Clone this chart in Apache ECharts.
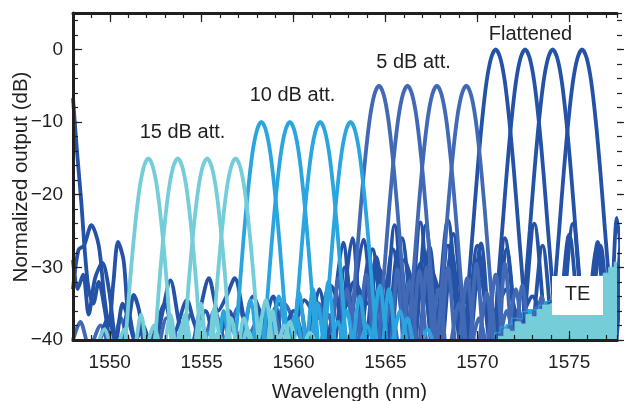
<!DOCTYPE html>
<html>
<head>
<meta charset="utf-8">
<script src="https://cdn.jsdelivr.net/npm/echarts@6/dist/echarts.min.js"></script>
<style>html,body{margin:0;padding:0;background:#fff}#c{width:624px;height:401px}</style>
</head>
<body>
<div id="c"></div>
<script>
// ---- tick labels ----
const xLabelTicks = [1550, 1555, 1560, 1565, 1570, 1575];
const yLabelTicks = [-40, -30, -20, -10, 0];
const xRange = [1548, 1577.6];
const yRange = [-40, 5];

// ---- 15 dB att. channels ----
const att15_1 = [[1549.2,-42],[1549.7,-38.5],[1550.15,-42],[1550.55,-46],[1550.85,-40],[1551.1,-32],[1551.35,-25],[1551.6,-19.5],[1551.85,-16.2],[1552.1,-15],[1552.35,-16.2],[1552.6,-19.5],[1552.85,-25],[1553.1,-32],[1553.35,-40],[1553.65,-44],[1554.1,-36.5],[1554.55,-42],[1555.0,-37.5],[1555.45,-42],[1555.9,-39],[1556.35,-43]];
const att15_2 = [[1550.35,-42],[1550.8,-38.5],[1551.25,-42],[1551.7,-36.5],[1552.15,-44],[1552.45,-40],[1552.7,-32],[1552.95,-25],[1553.2,-19.5],[1553.45,-16.2],[1553.7,-15],[1553.95,-16.2],[1554.2,-19.5],[1554.45,-25],[1554.7,-32],[1554.95,-40],[1555.25,-44],[1555.7,-35.5],[1556.15,-42],[1556.6,-37],[1557.05,-42],[1557.5,-38.5],[1557.95,-43]];
const att15_3 = [[1551.95,-42],[1552.4,-38],[1552.85,-42],[1553.3,-36.5],[1553.75,-44],[1554.05,-40],[1554.3,-32],[1554.55,-25],[1554.8,-19.5],[1555.05,-16.2],[1555.3,-15],[1555.55,-16.2],[1555.8,-19.5],[1556.05,-25],[1556.3,-32],[1556.55,-40],[1556.85,-44],[1557.3,-37],[1557.85,-42],[1558.5,-34.5],[1559.0,-42],[1559.5,-38],[1560.0,-43]];
const att15_4 = [[1553.55,-42],[1554.0,-37.5],[1554.5,-42],[1554.95,-35],[1555.35,-44],[1555.6,-40],[1555.85,-32],[1556.1,-25],[1556.35,-19.5],[1556.6,-16.2],[1556.85,-15],[1557.1,-16.2],[1557.35,-19.5],[1557.6,-25],[1557.85,-32],[1558.1,-40],[1558.4,-44],[1558.85,-36],[1559.3,-42],[1559.8,-37.5],[1560.3,-42],[1560.9,-39],[1561.4,-43]];

// ---- 10 dB att. channels ----
const att10_1 = [[1554.9,-42],[1555.4,-39],[1555.8,-42],[1556.2,-36],[1556.65,-44],[1556.8,-41],[1557.0,-35],[1557.25,-27],[1557.5,-20],[1557.75,-14.5],[1558.0,-11.2],[1558.25,-10],[1558.5,-11.2],[1558.75,-14.5],[1559.0,-20],[1559.25,-27],[1559.5,-35],[1559.7,-41],[1559.85,-43],[1560.3,-33.5],[1560.8,-42],[1561.3,-35],[1561.8,-42],[1562.4,-37.5],[1562.9,-43]];
const att10_2 = [[1556.1,-42],[1556.6,-38],[1557.1,-42],[1557.65,-34.5],[1558.2,-44],[1558.35,-41],[1558.55,-35],[1558.8,-27],[1559.05,-20],[1559.3,-14.5],[1559.55,-11.2],[1559.8,-10],[1560.05,-11.2],[1560.3,-14.5],[1560.55,-20],[1560.8,-27],[1561.05,-35],[1561.25,-41],[1561.4,-43],[1561.9,-32],[1562.4,-42],[1562.9,-36],[1563.4,-42],[1564.0,-38],[1564.5,-43]];
const att10_3 = [[1557.6,-42],[1558.1,-37],[1558.6,-42],[1559.2,-34],[1559.85,-44],[1560.0,-41],[1560.2,-35],[1560.45,-27],[1560.7,-20],[1560.95,-14.5],[1561.2,-11.2],[1561.45,-10],[1561.7,-11.2],[1561.95,-14.5],[1562.2,-20],[1562.45,-27],[1562.7,-35],[1562.9,-41],[1563.05,-43],[1563.6,-34],[1564.1,-42],[1564.7,-32.5],[1565.2,-42],[1565.8,-36],[1566.3,-43]];
const att10_4 = [[1559.6,-42],[1560.1,-36.5],[1560.6,-42],[1561.05,-33],[1561.5,-44],[1561.65,-41],[1561.85,-35],[1562.1,-27],[1562.35,-20],[1562.6,-14.5],[1562.85,-11.2],[1563.1,-10],[1563.35,-11.2],[1563.6,-14.5],[1563.85,-20],[1564.1,-27],[1564.35,-35],[1564.55,-41],[1564.7,-43],[1565.2,-33],[1565.7,-42],[1566.2,-37],[1566.7,-42],[1567.3,-38.5],[1567.8,-43]];

// ---- 5 dB att. channels ----
const att5_1 = [[1558.3,-42],[1558.9,-36],[1559.6,-42],[1560.3,-35],[1560.9,-42],[1561.4,-35],[1561.9,-42],[1562.45,-31.5],[1562.95,-44],[1563.05,-41],[1563.2,-36.5],[1563.4,-30],[1563.65,-22],[1563.9,-15],[1564.15,-9.5],[1564.4,-6.2],[1564.65,-5],[1564.9,-6.2],[1565.15,-9.5],[1565.4,-15],[1565.65,-22],[1565.9,-30],[1566.1,-36.5],[1566.25,-41],[1566.35,-43],[1566.85,-30.5],[1567.35,-42],[1567.9,-33],[1568.4,-42],[1569.0,-35],[1569.5,-42],[1570.1,-37],[1570.6,-43]];
const att5_2 = [[1561.4,-42],[1561.9,-36.5],[1562.4,-42],[1562.9,-33],[1563.4,-42],[1563.95,-31],[1564.5,-44],[1564.6,-41],[1564.75,-36.5],[1564.95,-30],[1565.2,-22],[1565.45,-15],[1565.7,-9.5],[1565.95,-6.2],[1566.2,-5],[1566.45,-6.2],[1566.7,-9.5],[1566.95,-15],[1567.2,-22],[1567.45,-30],[1567.65,-36.5],[1567.8,-41],[1567.9,-43],[1568.4,-30],[1568.9,-42],[1569.45,-31.5],[1569.95,-42],[1570.5,-33.5],[1571.0,-42],[1571.6,-36],[1572.1,-43]];
const att5_3 = [[1563.2,-42],[1563.7,-36],[1564.2,-42],[1564.7,-33.5],[1565.2,-42],[1565.65,-30.3],[1566.1,-44],[1566.2,-41],[1566.35,-36.5],[1566.55,-30],[1566.8,-22],[1567.05,-15],[1567.3,-9.5],[1567.55,-6.2],[1567.8,-5],[1568.05,-6.2],[1568.3,-9.5],[1568.55,-15],[1568.8,-22],[1569.05,-30],[1569.25,-36.5],[1569.4,-41],[1569.5,-43],[1569.95,-29.5],[1570.45,-42],[1571.0,-31],[1571.5,-42],[1572.1,-33],[1572.6,-42],[1573.2,-35.5],[1573.7,-43]];
const att5_4 = [[1564.8,-42],[1565.3,-35],[1565.8,-42],[1566.3,-32],[1566.8,-42],[1567.25,-30],[1567.7,-44],[1567.8,-41],[1567.95,-36.5],[1568.15,-30],[1568.4,-22],[1568.65,-15],[1568.9,-9.5],[1569.15,-6.2],[1569.4,-5],[1569.65,-6.2],[1569.9,-9.5],[1570.15,-15],[1570.4,-22],[1570.65,-30],[1570.85,-36.5],[1571.0,-41],[1571.1,-43],[1571.5,-29.5],[1572.0,-42],[1572.45,-32.5],[1572.95,-42],[1573.5,-34],[1574.0,-42],[1574.6,-36],[1575.1,-42],[1575.7,-37.5],[1576.2,-43]];

// ---- flattened channels ----
const flat_1 = [[1562.0,-42],[1562.7,-26.6],[1563.4,-42],[1564.1,-29],[1564.8,-42],[1565.5,-24.2],[1566.2,-42],[1566.9,-23.8],[1567.6,-42],[1568.4,-23.5],[1569.2,-42],[1569.35,-39],[1569.5,-33],[1569.75,-25],[1570.0,-17],[1570.25,-10],[1570.5,-4.5],[1570.75,-1.2],[1571.0,0],[1571.25,-1.2],[1571.5,-4.5],[1571.75,-10],[1572.0,-17],[1572.25,-25],[1572.5,-33],[1572.65,-39],[1572.8,-42],[1573.55,-27],[1574.25,-42],[1575.0,-25.5],[1575.75,-42],[1576.5,-27.5],[1577.2,-42],[1577.8,-26]];
const flat_2 = [[1562.5,-42],[1563.2,-26],[1563.85,-42],[1564.5,-28.6],[1565.2,-42],[1565.9,-26],[1566.7,-42],[1567.4,-27.2],[1568.0,-42],[1568.7,-25.4],[1569.5,-42],[1570.2,-26.7],[1570.8,-42],[1570.95,-39],[1571.1,-33],[1571.35,-25],[1571.6,-17],[1571.85,-10],[1572.1,-4.5],[1572.35,-1.2],[1572.6,0],[1572.85,-1.2],[1573.1,-4.5],[1573.35,-10],[1573.6,-17],[1573.85,-25],[1574.1,-33],[1574.25,-39],[1574.4,-42],[1575.2,-24],[1575.95,-42],[1576.7,-27],[1577.3,-42],[1577.9,-25]];
const flat_3 = [[1563.0,-42],[1563.8,-26.2],[1564.6,-42],[1565.4,-27.5],[1566.2,-42],[1566.9,-29.5],[1567.7,-42],[1568.4,-27],[1569.2,-42],[1570.0,-29],[1570.9,-42],[1571.6,-27.5],[1572.3,-42],[1572.45,-39],[1572.6,-33],[1572.85,-25],[1573.1,-17],[1573.35,-10],[1573.6,-4.5],[1573.85,-1.2],[1574.1,0],[1574.35,-1.2],[1574.6,-4.5],[1574.85,-10],[1575.1,-17],[1575.35,-25],[1575.6,-33],[1575.75,-39],[1575.9,-42],[1576.55,-26.5],[1577.15,-42],[1577.6,-23.2],[1577.9,-30]];
const flat_4 = [[1560.8,-42],[1561.4,-33],[1562.1,-42],[1562.8,-30],[1563.5,-42],[1564.3,-27.5],[1565.0,-42],[1565.7,-27.5],[1566.5,-42],[1567.2,-24.2],[1567.9,-42],[1568.6,-28],[1569.3,-42],[1570.0,-27],[1570.8,-42],[1571.5,-26],[1572.3,-42],[1573.1,-24],[1573.9,-42],[1574.05,-39],[1574.2,-33],[1574.45,-25],[1574.7,-17],[1574.95,-10],[1575.2,-4.5],[1575.45,-1.2],[1575.7,0],[1575.95,-1.2],[1576.2,-4.5],[1576.45,-10],[1576.7,-17],[1576.95,-25],[1577.2,-33],[1577.35,-39],[1577.5,-42],[1577.8,-30]];

// ---- flattened: wrapped channel and side-lobe floor ----
const flatEdge_1 = [[1548.0,-6.7],[1548.2,-13.5],[1548.45,-21],[1548.65,-28],[1548.85,-33],[1549.1,-35],[1549.4,-32],[1549.7,-35.4],[1550.0,-40],[1550.3,-42]];
const flatEdge_2 = [[1548.0,-33],[1548.3,-27.6],[1548.6,-27],[1549.0,-24.2],[1549.4,-27],[1549.7,-34],[1549.95,-38],[1550.2,-32],[1550.45,-26.5],[1550.75,-29],[1551.05,-37],[1551.3,-33.8],[1551.6,-36],[1551.9,-41],[1552.4,-42]];
const flatEdge_3 = [[1548.0,-29],[1548.25,-33],[1548.55,-31],[1548.85,-36.5],[1549.2,-31.5],[1549.6,-29.4],[1549.95,-33],[1550.35,-40],[1550.7,-35],[1551.1,-38],[1551.5,-42]];
const flatFloor_1 = [[1549.3,-42],[1549.9,-37],[1550.5,-42],[1551.0,-36],[1551.4,-40],[1551.8,-38],[1552.3,-42],[1552.8,-37],[1553.3,-31.8],[1553.8,-38],[1554.3,-42],[1554.9,-36],[1555.4,-31.5],[1555.9,-36],[1556.35,-34],[1556.8,-31.5],[1557.3,-37],[1557.8,-42],[1558.4,-38],[1558.9,-34],[1559.4,-39],[1560.0,-36],[1560.6,-40],[1561.2,-34.5],[1561.8,-40],[1562.3,-34.5],[1562.9,-42]];
const flatFloor_2 = [[1552.0,-42],[1552.5,-38.5],[1553.0,-35],[1553.5,-39],[1554.2,-34.5],[1554.7,-38],[1555.2,-36],[1555.8,-41],[1556.5,-36],[1557.1,-40],[1557.8,-34],[1558.5,-37.5],[1559.2,-35],[1559.9,-39],[1560.6,-34.5],[1561.3,-37],[1562.0,-32.5],[1562.7,-36],[1563.3,-32],[1564.0,-35],[1564.6,-30],[1565.3,-34],[1566.0,-29],[1566.7,-33],[1567.4,-30],[1568.1,-34],[1568.8,-31],[1569.5,-35],[1570.2,-32],[1570.9,-36],[1571.6,-33],[1572.3,-37],[1573.0,-34],[1573.7,-38],[1574.4,-35],[1575.1,-37],[1575.8,-34],[1576.5,-36],[1577.2,-33],[1577.8,-35]];
const att5Floor = [[1548.0,-40],[1548.4,-37.5],[1548.9,-41],[1549.5,-38],[1550.1,-42],[1550.6,-37],[1551.2,-41],[1551.8,-38.5],[1552.5,-42],[1553.1,-37],[1553.8,-40],[1554.4,-36.5],[1555.0,-41],[1555.7,-36],[1556.3,-40],[1557.0,-35.5],[1557.6,-39],[1558.3,-36],[1558.9,-40],[1559.5,-35],[1560.1,-38],[1560.7,-42]];

// ---- TE noise floor (dense traces) ----
const teFloor10 = [[1570.8,-40],[1571.1,-39],[1571.4,-38.2],[1571.7,-37.9],[1572.0,-37],[1572.3,-37.1],[1572.6,-36.1],[1572.9,-35.8],[1573.2,-35.9],[1573.5,-35.2],[1573.8,-34.7],[1574.1,-34.4],[1574.4,-40]];
const teFloor = [[1571.0,-40],[1571.3,-39.5],[1571.6,-38.5],[1571.9,-38.8],[1572.2,-37.5],[1572.5,-37.8],[1572.8,-36.5],[1573.1,-36.8],[1573.4,-35.8],[1573.7,-35.2],[1574.0,-35],[1574.3,-34.2],[1574.6,-33.8],[1574.9,-33.5],[1575.2,-33],[1575.5,-32.6],[1575.8,-32.2],[1576.1,-32],[1576.4,-31.6],[1576.7,-31.2],[1577.0,-30.8],[1577.3,-30],[1577.6,-29.3]];

// ---- colours ----
const C15 = '#74CDD8', C10 = '#2AA5DF', C5 = '#4169B5', CF = '#2452A6', AX = '#231f20';
const FONT = '"Liberation Sans", Arial, Helvetica, sans-serif';

function line(data, color) {
  return { type: 'line', data, smooth: 0.3, symbol: 'none', showSymbol: false, clip: true, silent: true,
    xAxisIndex: 0, yAxisIndex: 0, lineStyle: { color, width: 3.8 } };
}
function area(data, color, z) {
  return { type: 'line', data, step: 'middle', symbol: 'none', showSymbol: false, clip: true, silent: true,
    xAxisIndex: 0, yAxisIndex: 0, z,
    lineStyle: { color, width: 1 }, areaStyle: { color, opacity: 1, origin: 'start' } };
}
const minus = v => String(v).replace('-', '\u2212');
const plain = v => String(v);

const series = [
  line(att5Floor, C5),
  line(flatFloor_2, CF), line(flatFloor_1, CF),
  line(flatEdge_3, CF), line(flatEdge_2, CF), line(flatEdge_1, CF),
  line(flat_4, CF), line(flat_3, CF), line(flat_2, CF), line(flat_1, CF),
  line(att5_4, C5), line(att5_3, C5), line(att5_2, C5), line(att5_1, C5),
  line(att10_4, C10), line(att10_3, C10), line(att10_2, C10), line(att10_1, C10),
  line(att15_4, C15), line(att15_3, C15), line(att15_2, C15), line(att15_1, C15),
  area(teFloor10, C10, 3), area(teFloor, C15, 4)
];

const tickStyle = { color: AX, width: 1.2 };
function xAx(position, major, showLine) {
  return { type: 'value', min: xRange[0], max: xRange[1], interval: 1, position, z: 10,
    axisLine: { show: showLine, onZero: false, lineStyle: { color: AX, width: 3 } },
    axisTick: major ? { inside: true, length: 9, customValues: xLabelTicks, lineStyle: tickStyle }
                    : { inside: true, length: 5, lineStyle: tickStyle },
    axisLabel: (position === 'bottom' && !major) ? { customValues: xLabelTicks, color: AX, fontSize: 19, fontFamily: FONT, margin: 13, formatter: plain } : { show: false },
    splitLine: { show: false } };
}
function yAx(position, major, showLine) {
  const inside = position === 'left';
  return { type: 'value', min: yRange[0], max: yRange[1], interval: 2, position, z: 10,
    axisLine: { show: showLine, onZero: false, lineStyle: { color: AX, width: 3 } },
    axisTick: major ? { inside, length: 9, customValues: yLabelTicks, lineStyle: tickStyle }
                    : { inside, length: 5, lineStyle: tickStyle },
    axisLabel: (position === 'left' && !major) ? { customValues: yLabelTicks, color: AX, fontSize: 19, fontFamily: FONT, margin: 10, formatter: minus } : { show: false },
    splitLine: { show: false } };
}

function txt(text, x, y, size, extra) {
  return Object.assign({ type: 'text', x, y, z: 200,
    style: { text, fill: AX, font: size + 'px ' + FONT, align: 'center', verticalAlign: 'middle', textAlign: 'center', textVerticalAlign: 'middle' } }, extra || {});
}

const chart = echarts.init(document.getElementById('c'), null, { renderer: 'canvas' });
chart.setOption({
  animation: false,
  backgroundColor: '#fff',
  grid: { left: 73, right: 7, top: 13, bottom: 61, containLabel: false },
  xAxis: [xAx('bottom', false, true), xAx('bottom', true, false), xAx('top', false, true), xAx('top', true, false)],
  yAxis: [yAx('left', false, true), yAx('left', true, false), yAx('right', false, false), yAx('right', true, false)],
  series,
  graphic: [
    { type: 'rect', shape: { x: 552, y: 276, width: 51, height: 39 }, style: { fill: '#fff' }, z: 150 },
    txt('TE', 577.5, 294, 20),
    txt('15 dB att.', 182.5, 132.5, 20),
    txt('10 dB att.', 292.5, 95.5, 20),
    txt('5 dB att.', 413.5, 62, 20),
    txt('Flattened', 530.5, 34.5, 20),
    txt('Wavelength (nm)', 349.5, 392, 20.5),
    txt('Normalized output (dB)', 21, 177, 20.5, { rotation: Math.PI / 2 })
  ]
});
</script>
</body>
</html>
